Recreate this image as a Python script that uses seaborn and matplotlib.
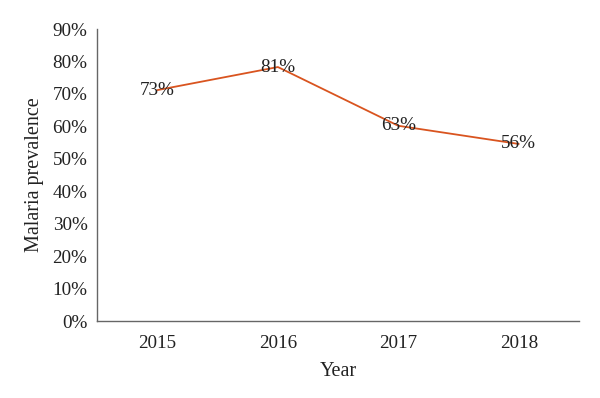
import matplotlib
matplotlib.use('Agg')
import matplotlib.pyplot as plt
import seaborn as sns
import pandas as pd
from matplotlib.ticker import PercentFormatter

years = ['2015', '2016', '2017', '2018']
prevalence = [71.2, 78.3, 60.2, 54.6]
labels = ['73%', '81%', '63%', '56%']

sns.set_theme(style="white")
plt.rcParams['font.family'] = ['Liberation Serif', 'DejaVu Serif']

df = pd.DataFrame({'Year': years, 'Prevalence': prevalence})

fig = plt.figure(figsize=(6, 3.98), dpi=100)
ax = fig.add_axes([0.162, 0.193, 0.803, 0.734])
sns.lineplot(data=df, x='Year', y='Prevalence', color='#D9541F', lw=1.3, ax=ax, sort=False)

for i, (v, t) in enumerate(zip(prevalence, labels)):
    ax.text(i, v, t, ha='center', va='center', fontsize=13.8, color='#222222')

ax.set_xlim(-0.5, 3.5)
ax.set_ylim(0, 90)
ax.set_yticks(range(0, 91, 10))
ax.yaxis.set_major_formatter(PercentFormatter(decimals=0))
ax.tick_params(axis='both', length=0, labelsize=13.8, colors='#222222')
ax.tick_params(axis='x', pad=10)
ax.tick_params(axis='y', pad=7)
ax.set_xlabel('Year', fontsize=14.5, color='#222222', labelpad=7)
ax.set_ylabel('Malaria prevalence', fontsize=14.5, color='#222222', labelpad=6)

for s in ['top', 'right']:
    ax.spines[s].set_visible(False)
for s in ['left', 'bottom']:
    ax.spines[s].set_color('#666666')
    ax.spines[s].set_linewidth(1.0)

fig.savefig('out.png', dpi=100)
